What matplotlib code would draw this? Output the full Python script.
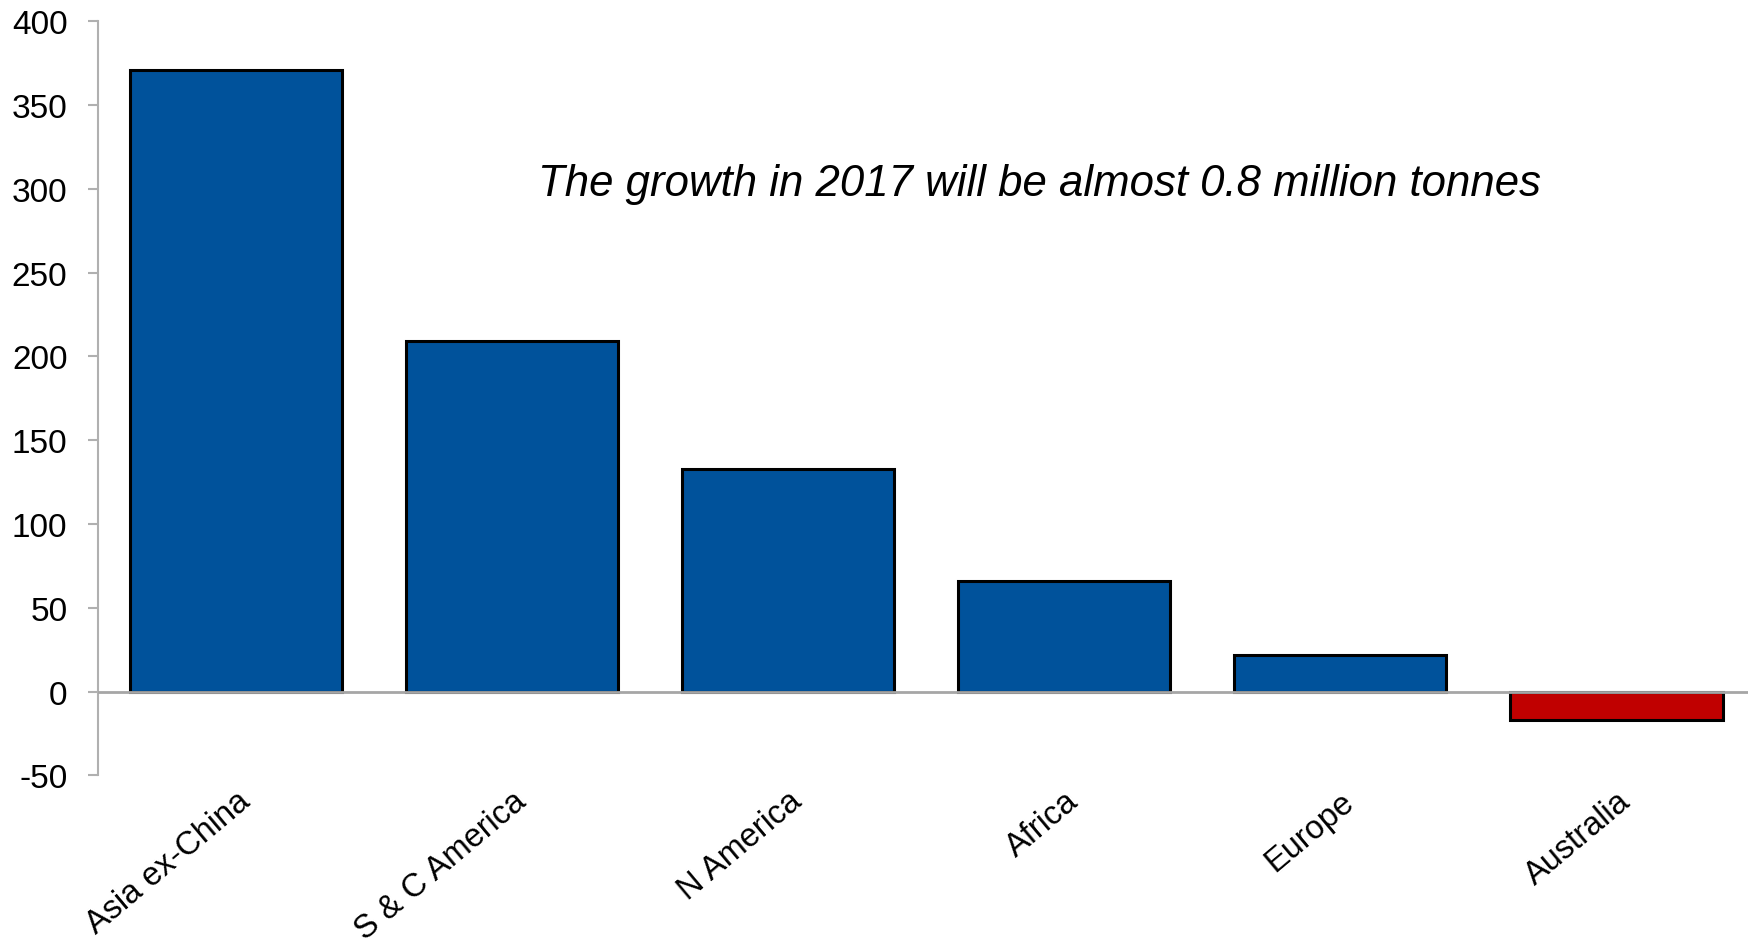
import matplotlib.pyplot as plt
import numpy as np

plt.rcParams['font.family'] = ['Liberation Sans', 'DejaVu Sans']

regions = ['Asia ex-China', 'S & C America', 'N America', 'Africa', 'Europe', 'Australia']
growth = [371, 209, 133, 66, 22, -17]
bar_colors = ['#00529b', '#00529b', '#00529b', '#00529b', '#00529b', '#c00000']
y_ticks = [-50, 0, 50, 100, 150, 200, 250, 300, 350, 400]
note = 'The growth in 2017 will be almost 0.8 million tonnes'

fig = plt.figure(figsize=(17.49, 9.45), dpi=100)
ax = fig.add_axes([0.056, 0.1784, 0.947, 0.798])

x = np.arange(len(regions))
ax.bar(x, growth, width=0.77, color=bar_colors, edgecolor='black', linewidth=2.2, zorder=2)
ax.axhline(0, color='#a6a6a6', linewidth=2, zorder=3)

ax.set_xlim(-0.5, 5.5)
ax.set_ylim(-50, 400)
ax.set_yticks(y_ticks)
ax.set_yticklabels([str(v) for v in y_ticks], fontsize=24)
ax.set_xticks(x)
ax.set_xticklabels(regions, fontsize=23.5, rotation=40, ha='right', rotation_mode='anchor')

for s in ['top', 'right', 'bottom']:
    ax.spines[s].set_visible(False)
ax.spines['left'].set_color('#b0b0b0')
ax.spines['left'].set_linewidth(1.5)
ax.tick_params(axis='y', direction='out', length=7, width=1.5, color='#b0b0b0', pad=15)
ax.tick_params(axis='x', length=0, pad=7)

ax.text(2.91, 303, note, fontsize=31.5, style='italic', ha='center', va='center')

fig.savefig('out.png', dpi=100)
